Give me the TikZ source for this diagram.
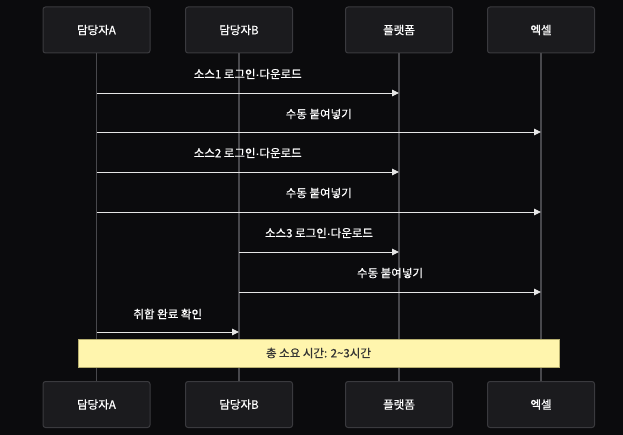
\documentclass[tikz,border=0pt]{standalone}
\usepackage{fontspec}
\setmainfont{Noto Sans CJK KR}[FakeBold=0.6]
\newfontfamily\dotfont{Liberation Sans}[FakeBold=0.6]
\newcommand{\mdot}{{\dotfont\symbol{"00B7}}}
\usetikzlibrary{arrows.meta}
\definecolor{bg}{HTML}{0B0B0D}
\definecolor{boxfill}{HTML}{1B1B1E}
\definecolor{boxline}{HTML}{3A3A3E}
\definecolor{life}{HTML}{48484C}
\definecolor{msg}{HTML}{E6E6E6}
\definecolor{notefill}{HTML}{FFF5AD}
\definecolor{noteline}{HTML}{B8B070}
\definecolor{notetext}{HTML}{333333}
\tikzset{
  actor/.style={draw=boxline, line width=1pt, fill=boxfill, rounded corners=2.5pt,
    minimum width=107pt, minimum height=46pt, inner sep=0pt,
    text=white, font=\fontsize{11.5pt}{13pt}\selectfont},
  lifeline/.style={draw=life, line width=1.3pt},
  message/.style={draw=msg, line width=0.9pt, -{Triangle[length=7pt,width=6.5pt]}},
  msglabel/.style={text=white, font=\fontsize{11.5pt}{13pt}\selectfont, inner sep=0pt},
  notebox/.style={draw=noteline, line width=0.8pt, fill=notefill, inner sep=0pt,
    text=notetext, font=\fontsize{11.5pt}{13pt}\selectfont}
}
\begin{document}
\begin{tikzpicture}[x=1pt,y=-1pt]
\fill[bg] (0,0) rectangle (623,435);
\useasboundingbox (0,0) rectangle (623,435);
% top actors
\node[actor] (aT) at (96.5,30) {담당자A};
\node[actor] (bT) at (239,30) {담당자B};
\node[actor] (pT) at (399,30) {플랫폼};
\node[actor] (eT) at (541,30) {엑셀};
% bottom actors
\node[actor] (aB) at (96.5,404.5) {담당자A};
\node[actor] (bB) at (239,404.5) {담당자B};
\node[actor] (pB) at (399,404.5) {플랫폼};
\node[actor] (eB) at (541,404.5) {엑셀};
% lifelines
\draw[lifeline] (aT.south) -- (aB.north);
\draw[lifeline] (bT.south) -- (bB.north);
\draw[lifeline] (pT.south) -- (pB.north);
\draw[lifeline] (eT.south) -- (eB.north);
% message endpoints
\coordinate (m1s) at (96.5,93);  \coordinate (m1e) at (399,93);
\coordinate (m2s) at (96.5,132); \coordinate (m2e) at (541,132);
\coordinate (m3s) at (96.5,172); \coordinate (m3e) at (399,172);
\coordinate (m4s) at (96.5,212); \coordinate (m4e) at (541,212);
\coordinate (m5s) at (239,252);  \coordinate (m5e) at (399,252);
\coordinate (m6s) at (239,292);  \coordinate (m6e) at (541,292);
\coordinate (m7s) at (96.5,332); \coordinate (m7e) at (239,332);
% messages
\draw[message] (m1s) -- node[msglabel, midway, yshift=19pt] (l1) {소스1 로그인\mdot 다운로드} (m1e);
\draw[message] (m2s) -- node[msglabel, midway, yshift=18pt] (l2) {수동 붙여넣기} (m2e);
\draw[message] (m3s) -- node[msglabel, midway, yshift=19pt] (l3) {소스2 로그인\mdot 다운로드} (m3e);
\draw[message] (m4s) -- node[msglabel, midway, yshift=19pt] (l4) {수동 붙여넣기} (m4e);
\draw[message] (m5s) -- node[msglabel, midway, yshift=19pt] (l5) {소스3 로그인\mdot 다운로드} (m5e);
\draw[message] (m6s) -- node[msglabel, midway, yshift=19pt] (l6) {수동 붙여넣기} (m6e);
\draw[message] (m7s) -- node[msglabel, midway, yshift=18pt] (l7) {취합 완료 확인} (m7e);
% note
\node[notebox, minimum width=481pt, minimum height=28pt] (note) at (318.5,353) {총 소요 시간: 2\textasciitilde3시간};
\end{tikzpicture}
\end{document}
